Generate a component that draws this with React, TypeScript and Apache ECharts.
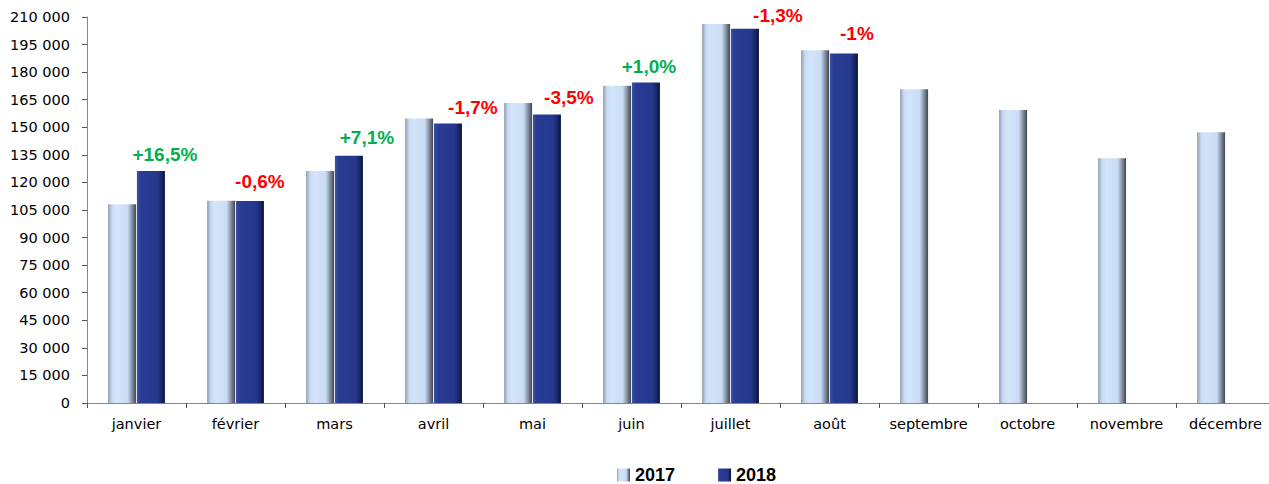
import React, { useEffect, useRef } from "react";
import * as echarts from "echarts";

const months = ["janvier", "février", "mars", "avril", "mai", "juin", "juillet", "août", "septembre", "octobre", "novembre", "décembre"];
const values2017 = [108100, 110100, 126200, 154800, 163200, 172600, 206200, 191900, 170700, 159400, 133100, 147300];
const values2018 = [126200, 109900, 134500, 152100, 157000, 174300, 203600, 190200, null, null, null, null];
const changes = ["+16,5%", "-0,6%", "+7,1%", "-1,7%", "-3,5%", "+1,0%", "-1,3%", "-1%"];
const yTicks = { min: 0, max: 210000, interval: 15000 };

// label nudges (style only, pixels)
const labelDx = [14, 10, 18, 25, 22, 3, 33, 13];
const labelDy = [-7, -10, -9, -6, -7, -7, -4, -10];

const fmt = (v: number) => String(v).replace(/\B(?=(\d{3})+(?!\d))/g, " ");

export default function App() {
  const ref = useRef<HTMLDivElement>(null);
  useEffect(() => {
    if (!ref.current) return;
    const chart = echarts.init(ref.current, undefined, { renderer: "svg" });
    const grad2017 = new echarts.graphic.LinearGradient(0, 0, 1, 0, [
      { offset: 0, color: "#8f9cb0" },
      { offset: 0.14, color: "#c9dbf2" },
      { offset: 0.3, color: "#d3e5fb" },
      { offset: 0.7, color: "#cadcf4" },
      { offset: 0.85, color: "#8692a3" },
      { offset: 1, color: "#3f4652" },
    ]);
    const grad2018 = new echarts.graphic.LinearGradient(0, 0, 1, 0, [
      { offset: 0, color: "#3d52a2" },
      { offset: 0.14, color: "#283c93" },
      { offset: 0.72, color: "#25388e" },
      { offset: 0.86, color: "#1a2a6e" },
      { offset: 1, color: "#0a1238" },
    ]);
    chart.setOption({
      animation: false,
      grid: { left: 87, right: 7, top: 17, bottom: 81, containLabel: false },
      legend: {
        left: 612,
        top: 461,
        itemWidth: 13,
        itemHeight: 13,
        itemGap: 43,
        icon: "rect",
        textStyle: { fontFamily: "Liberation Sans", fontWeight: "bold", fontSize: 18, color: "#000" },
        data: ["2017", "2018"],
      },
      xAxis: {
        type: "category",
        data: months,
        axisLine: { lineStyle: { color: "#868686", width: 1 } },
        axisTick: { show: true, length: 5, lineStyle: { color: "#555" } },
        axisLabel: { fontFamily: "DejaVu Sans", fontSize: 14.5, color: "#000", margin: 13, interval: 0 },
      },
      yAxis: {
        type: "value",
        min: yTicks.min,
        max: yTicks.max,
        interval: yTicks.interval,
        axisLine: { show: true, lineStyle: { color: "#868686", width: 1 } },
        axisTick: { show: true, length: 5, lineStyle: { color: "#555" } },
        splitLine: { show: false },
        axisLabel: { fontFamily: "DejaVu Sans", fontSize: 14.5, color: "#000", margin: 17, formatter: (v: number) => fmt(v) },
      },
      series: [
        {
          name: "2017",
          type: "bar",
          data: values2017,
          barWidth: 28,
          barGap: "3%",
          itemStyle: { color: grad2017 },
        },
        {
          name: "2018",
          type: "bar",
          data: values2018.map((v, i) =>
            i < changes.length
              ? {
                  value: v,
                  label: {
                    show: true,
                    position: "top",
                    distance: 0,
                    offset: [labelDx[i], labelDy[i]],
                    formatter: changes[i],
                    color: changes[i].startsWith("+") ? "#00b050" : "#ff0000",
                    fontFamily: "Liberation Sans",
                    fontWeight: "bold",
                    fontSize: 19,
                  },
                }
              : v
          ),
          barWidth: 28,
          itemStyle: { color: grad2018 },
        },
      ],
    });
    return () => chart.dispose();
  }, []);
  return (
    <div style={{ position: "absolute", left: 0, top: 0, width: 1269, height: 484, overflow: "hidden", background: "#fff" }}>
      <div ref={ref} style={{ width: 1282, height: 484 }} />
    </div>
  );
}
